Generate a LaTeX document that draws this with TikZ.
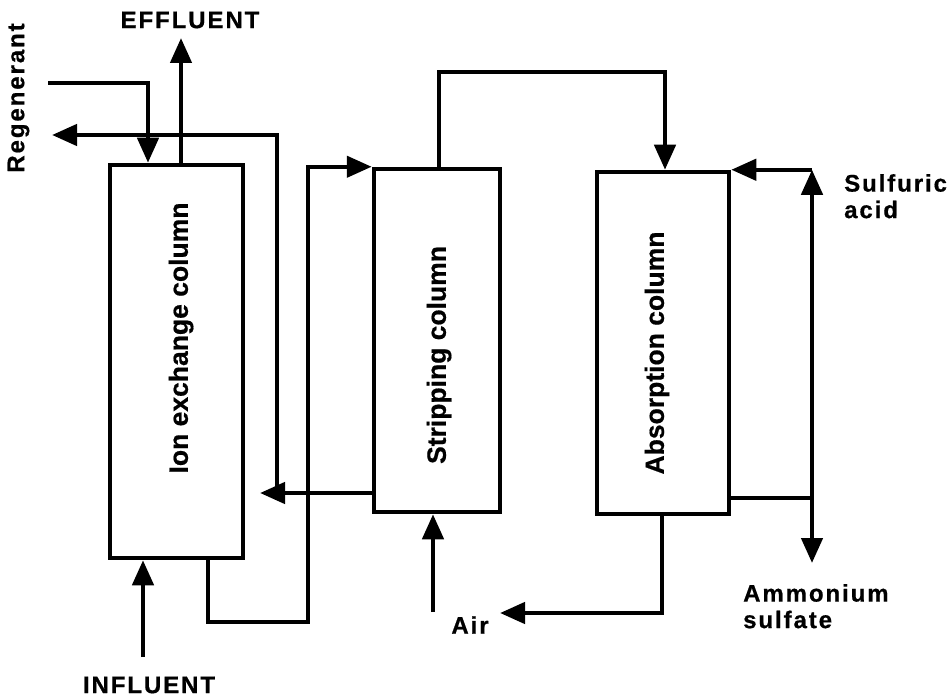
\documentclass[tikz,border=0pt]{standalone}
\usepackage{fontspec}
\setmainfont{Liberation Sans}[BoldFeatures={FakeBold=0.6}]
\newfontfamily\spacedfont{Liberation Sans}[LetterSpace=8, BoldFeatures={FakeBold=0.6}]
\usetikzlibrary{arrows.meta}
\begin{document}
\begin{tikzpicture}[x=1pt,y=-1pt,
  col/.style={draw, line width=4.5pt, inner sep=0pt},
  ln/.style={line width=4.5pt},
  arr/.style={line width=4.5pt, -{Triangle[length=25pt,width=21pt]}},
  outlab/.style={font=\spacedfont\bfseries\fontsize{24}{26.5}\selectfont, align=left, inner sep=0pt},
  boxlab/.style={font=\bfseries\fontsize{26.5}{30}\selectfont, rotate=90, inner sep=0pt}
]
\useasboundingbox (0,0) rectangle (950,698);
% columns
\node[col, minimum width=133pt, minimum height=393pt] (ion) at (176.5,361.5) {};
\node[col, minimum width=126pt, minimum height=343pt] (strip) at (437,340.5) {};
\node[col, minimum width=132pt, minimum height=342pt] (absorb) at (663,343) {};
\node[boxlab] (ionlab) at (181,338) {Ion exchange column};
\node[boxlab] (striplab) at (439,355) {Stripping column};
\node[boxlab] (abslab) at (657,353) {Absorption column};
% labels
\node[outlab] (efflab) at (190,20) {EFFLUENT};
\node[outlab] (inflab) at (149,685) {INFLUENT};
\node[outlab, rotate=90] (reglab) at (18.5,98) {Regenerant};
\node[outlab] (airlab) at (470,625) {Air};
\node[outlab, anchor=north west] (sulflab) at (844,174) {Sulfuric\\acid};
\node[outlab, anchor=north west] (ammlab) at (743,584) {Ammonium\\sulfate};
% coordinates
\coordinate (regin) at (48,83);
\coordinate (regx) at (148,83);
\coordinate (eff) at (181,38);
\coordinate (regout) at (52,135);
\coordinate (r1) at (260,493);
\coordinate (r2) at (277,493);
\coordinate (b1) at (208,622);
\coordinate (b2) at (308,622);
\coordinate (inf) at (143,657);
\coordinate (air) at (433,612);
\coordinate (t1) at (439,72);
\coordinate (t2) at (665,72);
\coordinate (a1) at (662,613);
\coordinate (atip) at (500,613);
\coordinate (s1) at (812,498);
\coordinate (s2) at (812,563);
\coordinate (s3) at (absorb.north east -| s1);
% connectors
\draw[arr] (regin) -- (regx) -- (ion.north -| regx);
\draw[arr] (ion.north -| eff) -- (eff);
\draw[arr] (strip.west |- r1) -- (r1);
\draw[arr] (r2) |- (regout);
\draw[arr] (ion.south -| b1) -- (b1) -- (b2) -- (b2 |- strip.north) -- (strip.north west);
\draw[arr] (inf) -- (ion.south -| inf);
\draw[arr] (air) -- (strip.south -| air);
\draw[arr] (strip.north -| t1) -- (t1) -- (t2) -- (absorb.north -| t2);
\draw[arr] (absorb.south -| a1) |- (atip);
\draw[ln] (absorb.east |- s1) -- (s1);
\draw[arr] (s1) -- (s2);
\draw[arr] (s1) -- (s3);
\draw[arr] (s3) -- (absorb.north east);
\end{tikzpicture}
\end{document}
